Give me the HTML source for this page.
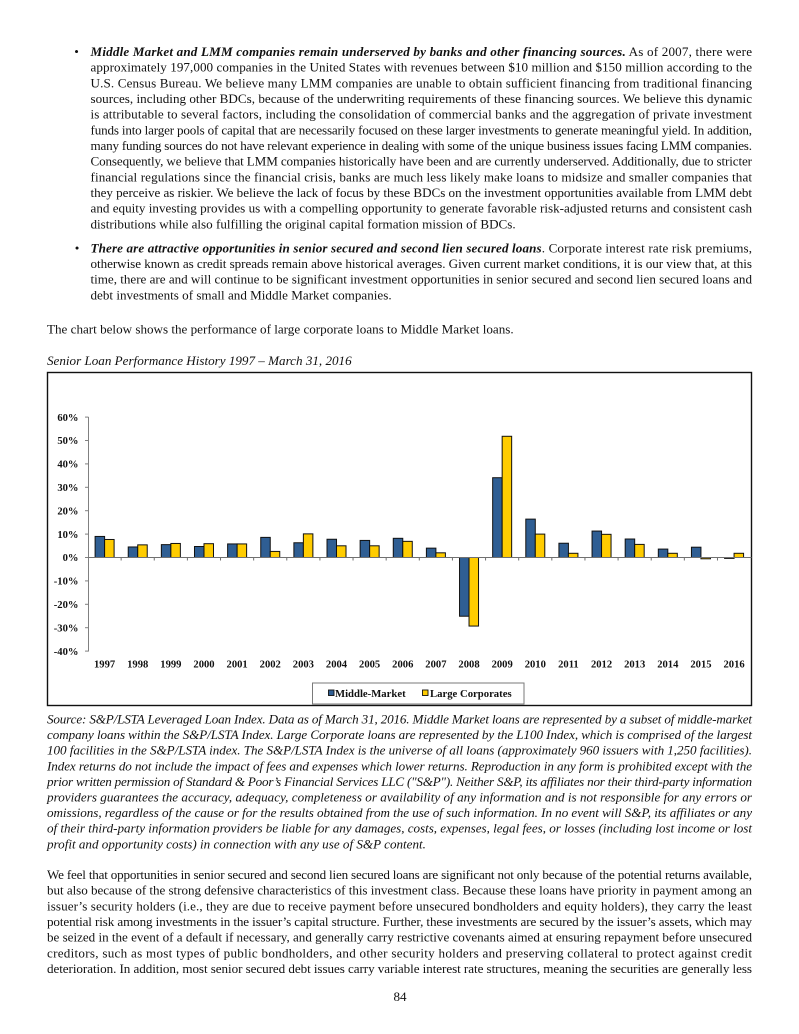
<!DOCTYPE html>
<html><head><meta charset="utf-8"><style>
html,body{margin:0;padding:0;background:#fff}
svg{display:block}
.t{font-family:"Liberation Serif","Times New Roman",serif;font-size:13.1px;fill:#111}
.it{font-style:italic}
.bi{font-weight:bold;font-style:italic}
.c{font-family:"Liberation Serif","Times New Roman",serif;font-size:10.6px;font-weight:bold;fill:#111}
</style></head><body>
<svg width="799" height="1034" viewBox="0 0 799 1034" xmlns="http://www.w3.org/2000/svg">
<!-- Bullet 1 -->
<text class="t" x="76.5" y="56" text-anchor="middle">•</text>
<text class="t" x="90.5" y="56" textLength="661.5" lengthAdjust="spacing"><tspan class="bi">Middle Market and LMM companies remain underserved by banks and other financing sources.</tspan> As of 2007, there were</text>
<text class="t" x="90.5" y="71.7" textLength="661.5" lengthAdjust="spacing">approximately 197,000 companies in the United States with revenues between $10 million and $150 million according to the</text>
<text class="t" x="90.5" y="87.3" textLength="661.5" lengthAdjust="spacing">U.S. Census Bureau. We believe many LMM companies are unable to obtain sufficient financing from traditional financing</text>
<text class="t" x="90.5" y="103" textLength="661.5" lengthAdjust="spacing">sources, including other BDCs, because of the underwriting requirements of these financing sources. We believe this dynamic</text>
<text class="t" x="90.5" y="118.7" textLength="661.5" lengthAdjust="spacing">is attributable to several factors, including the consolidation of commercial banks and the aggregation of private investment</text>
<text class="t" x="90.5" y="134.3" textLength="661.5" lengthAdjust="spacing">funds into larger pools of capital that are necessarily focused on these larger investments to generate meaningful yield. In addition,</text>
<text class="t" x="90.5" y="150" textLength="661.5" lengthAdjust="spacing">many funding sources do not have relevant experience in dealing with some of the unique business issues facing LMM companies.</text>
<text class="t" x="90.5" y="165.7" textLength="661.5" lengthAdjust="spacing">Consequently, we believe that LMM companies historically have been and are currently underserved. Additionally, due to stricter</text>
<text class="t" x="90.5" y="181.3" textLength="661.5" lengthAdjust="spacing">financial regulations since the financial crisis, banks are much less likely make loans to midsize and smaller companies that</text>
<text class="t" x="90.5" y="197" textLength="661.5" lengthAdjust="spacing">they perceive as riskier. We believe the lack of focus by these BDCs on the investment opportunities available from LMM debt</text>
<text class="t" x="90.5" y="212.7" textLength="661.5" lengthAdjust="spacing">and equity investing provides us with a compelling opportunity to generate favorable risk-adjusted returns and consistent cash</text>
<text class="t" x="90.5" y="228.3">distributions while also fulfilling the original capital formation mission of BDCs.</text>
<!-- Bullet 2 -->
<text class="t" x="77" y="252.3" text-anchor="middle">•</text>
<text class="t" x="90.5" y="252.3" textLength="661.5" lengthAdjust="spacing"><tspan class="bi">There are attractive opportunities in senior secured and second lien secured loans</tspan>. Corporate interest rate risk premiums,</text>
<text class="t" x="90.5" y="268" textLength="661.5" lengthAdjust="spacing">otherwise known as credit spreads remain above historical averages. Given current market conditions, it is our view that, at this</text>
<text class="t" x="90.5" y="283.7" textLength="661.5" lengthAdjust="spacing">time, there are and will continue to be significant investment opportunities in senior secured and second lien secured loans and</text>
<text class="t" x="90.5" y="299.3">debt investments of small and Middle Market companies.</text>
<!-- Intro -->
<text class="t" x="47" y="333.5">The chart below shows the performance of large corporate loans to Middle Market loans.</text>
<text class="t it" x="47" y="365">Senior Loan Performance History 1997 – March 31, 2016</text>

<!-- Chart -->
<rect x="47.5" y="372.5" width="704" height="333" fill="#fff" stroke="#111" stroke-width="1.4"/>
<g stroke="#808080" stroke-width="1">
<line x1="88.5" y1="417" x2="88.5" y2="651.5"/>
<line x1="85" y1="417.1" x2="88.5" y2="417.1"/>
<line x1="85" y1="440.5" x2="88.5" y2="440.5"/>
<line x1="85" y1="463.9" x2="88.5" y2="463.9"/>
<line x1="85" y1="487.3" x2="88.5" y2="487.3"/>
<line x1="85" y1="510.7" x2="88.5" y2="510.7"/>
<line x1="85" y1="534.1" x2="88.5" y2="534.1"/>
<line x1="85" y1="557.5" x2="88.5" y2="557.5"/>
<line x1="85" y1="580.9" x2="88.5" y2="580.9"/>
<line x1="85" y1="604.3" x2="88.5" y2="604.3"/>
<line x1="85" y1="627.7" x2="88.5" y2="627.7"/>
<line x1="85" y1="651.1" x2="88.5" y2="651.1"/>
</g>
<g class="c" text-anchor="end">
<text x="78.5" y="420.8">60%</text>
<text x="78.5" y="444.2">50%</text>
<text x="78.5" y="467.6">40%</text>
<text x="78.5" y="491">30%</text>
<text x="78.5" y="514.4">20%</text>
<text x="78.5" y="537.8">10%</text>
<text x="78.5" y="561.2">0%</text>
<text x="78.5" y="584.6">-10%</text>
<text x="78.5" y="608">-20%</text>
<text x="78.5" y="631.4">-30%</text>
<text x="78.5" y="654.8">-40%</text>
</g>
<!-- Middle-Market bars -->
<g fill="#2f5e93" stroke="#111" stroke-width="1">
<rect x="95.1" y="536.44" width="9.5" height="21.06"/>
<rect x="128.23" y="546.97" width="9.5" height="10.53"/>
<rect x="161.36" y="544.63" width="9.5" height="12.87"/>
<rect x="194.49" y="546.5" width="9.5" height="11"/>
<rect x="227.62" y="543.93" width="9.5" height="13.57"/>
<rect x="260.75" y="537.38" width="9.5" height="20.12"/>
<rect x="293.88" y="542.76" width="9.5" height="14.74"/>
<rect x="327.01" y="539.25" width="9.5" height="18.25"/>
<rect x="360.14" y="540.42" width="9.5" height="17.08"/>
<rect x="393.27" y="538.31" width="9.5" height="19.19"/>
<rect x="426.4" y="548.14" width="9.5" height="9.36"/>
<rect x="459.53" y="557.5" width="9.5" height="58.73"/>
<rect x="492.66" y="477.71" width="9.5" height="79.79"/>
<rect x="525.79" y="519.12" width="9.5" height="38.38"/>
<rect x="558.92" y="543.23" width="9.5" height="14.27"/>
<rect x="592.05" y="531.06" width="9.5" height="26.44"/>
<rect x="625.18" y="539.01" width="9.5" height="18.49"/>
<rect x="658.31" y="549.08" width="9.5" height="8.42"/>
<rect x="691.44" y="547.2" width="9.5" height="10.3"/>
<rect x="724.57" y="557.5" width="9.5" height="0.9"/>
</g>
<!-- Large Corporates bars -->
<g fill="#ffcc00" stroke="#111" stroke-width="1">
<rect x="104.6" y="539.48" width="9.5" height="18.02"/>
<rect x="137.73" y="544.86" width="9.5" height="12.64"/>
<rect x="170.86" y="543.46" width="9.5" height="14.04"/>
<rect x="203.99" y="543.69" width="9.5" height="13.81"/>
<rect x="237.12" y="543.93" width="9.5" height="13.57"/>
<rect x="270.25" y="551.42" width="9.5" height="6.08"/>
<rect x="303.38" y="533.87" width="9.5" height="23.63"/>
<rect x="336.51" y="545.8" width="9.5" height="11.7"/>
<rect x="369.64" y="545.8" width="9.5" height="11.7"/>
<rect x="402.77" y="541.35" width="9.5" height="16.15"/>
<rect x="435.9" y="552.82" width="9.5" height="4.68"/>
<rect x="469.03" y="557.5" width="9.5" height="68.56"/>
<rect x="502.16" y="436.29" width="9.5" height="121.21"/>
<rect x="535.29" y="534.1" width="9.5" height="23.4"/>
<rect x="568.42" y="553.29" width="9.5" height="4.21"/>
<rect x="601.55" y="534.33" width="9.5" height="23.17"/>
<rect x="634.68" y="544.4" width="9.5" height="13.1"/>
<rect x="667.81" y="553.29" width="9.5" height="4.21"/>
<rect x="700.94" y="557.5" width="9.5" height="1.3"/>
<rect x="734.07" y="553.29" width="9.5" height="4.21"/>
</g>
<!-- zero line and ticks -->
<g stroke="#707070" stroke-width="1">
<line x1="88.5" y1="557.5" x2="751.5" y2="557.5"/>
<line x1="121.13" y1="557.5" x2="121.13" y2="560.5"/>
<line x1="154.26" y1="557.5" x2="154.26" y2="560.5"/>
<line x1="187.39" y1="557.5" x2="187.39" y2="560.5"/>
<line x1="220.52" y1="557.5" x2="220.52" y2="560.5"/>
<line x1="253.65" y1="557.5" x2="253.65" y2="560.5"/>
<line x1="286.78" y1="557.5" x2="286.78" y2="560.5"/>
<line x1="319.91" y1="557.5" x2="319.91" y2="560.5"/>
<line x1="353.04" y1="557.5" x2="353.04" y2="560.5"/>
<line x1="386.17" y1="557.5" x2="386.17" y2="560.5"/>
<line x1="419.3" y1="557.5" x2="419.3" y2="560.5"/>
<line x1="452.43" y1="557.5" x2="452.43" y2="560.5"/>
<line x1="485.56" y1="557.5" x2="485.56" y2="560.5"/>
<line x1="518.69" y1="557.5" x2="518.69" y2="560.5"/>
<line x1="551.82" y1="557.5" x2="551.82" y2="560.5"/>
<line x1="584.95" y1="557.5" x2="584.95" y2="560.5"/>
<line x1="618.08" y1="557.5" x2="618.08" y2="560.5"/>
<line x1="651.21" y1="557.5" x2="651.21" y2="560.5"/>
<line x1="684.34" y1="557.5" x2="684.34" y2="560.5"/>
<line x1="717.47" y1="557.5" x2="717.47" y2="560.5"/>
</g>
<g class="c" text-anchor="middle">
<text x="104.6" y="667.7">1997</text>
<text x="137.73" y="667.7">1998</text>
<text x="170.86" y="667.7">1999</text>
<text x="203.99" y="667.7">2000</text>
<text x="237.12" y="667.7">2001</text>
<text x="270.25" y="667.7">2002</text>
<text x="303.38" y="667.7">2003</text>
<text x="336.51" y="667.7">2004</text>
<text x="369.64" y="667.7">2005</text>
<text x="402.77" y="667.7">2006</text>
<text x="435.9" y="667.7">2007</text>
<text x="469.03" y="667.7">2008</text>
<text x="502.16" y="667.7">2009</text>
<text x="535.29" y="667.7">2010</text>
<text x="568.42" y="667.7">2011</text>
<text x="601.55" y="667.7">2012</text>
<text x="634.68" y="667.7">2013</text>
<text x="667.81" y="667.7">2014</text>
<text x="700.94" y="667.7">2015</text>
<text x="734.07" y="667.7">2016</text>
</g>
<!-- Legend -->
<rect x="312.5" y="683" width="211.5" height="21" fill="#fff" stroke="#7a7a7a" stroke-width="1"/>
<rect x="328.5" y="690" width="5.5" height="5.5" fill="#2f5e93" stroke="#111" stroke-width="0.9"/>
<text class="c" x="335" y="697" style="font-size:10.7px">Middle-Market</text>
<rect x="422.5" y="690" width="5.5" height="5.5" fill="#ffcc00" stroke="#111" stroke-width="0.9"/>
<text class="c" x="430" y="697" style="font-size:10.7px">Large Corporates</text>

<!-- Source -->
<g class="t it">
<text x="47" y="723.5" textLength="705" lengthAdjust="spacing">Source: S&amp;P/LSTA Leveraged Loan Index. Data as of March 31, 2016. Middle Market loans are represented by a subset of middle-market</text>
<text x="47" y="739.1" textLength="705" lengthAdjust="spacing">company loans within the S&amp;P/LSTA Index. Large Corporate loans are represented by the L100 Index, which is comprised of the largest</text>
<text x="47" y="754.7" textLength="705" lengthAdjust="spacing">100 facilities in the S&amp;P/LSTA index. The S&amp;P/LSTA Index is the universe of all loans (approximately 960 issuers with 1,250 facilities).</text>
<text x="47" y="770.3" textLength="705" lengthAdjust="spacing">Index returns do not include the impact of fees and expenses which lower returns. Reproduction in any form is prohibited except with the</text>
<text x="47" y="785.9" textLength="705" lengthAdjust="spacing">prior written permission of Standard &amp; Poor’s Financial Services LLC ("S&amp;P"). Neither S&amp;P, its affiliates nor their third-party information</text>
<text x="47" y="801.5" textLength="705" lengthAdjust="spacing">providers guarantees the accuracy, adequacy, completeness or availability of any information and is not responsible for any errors or</text>
<text x="47" y="817.1" textLength="705" lengthAdjust="spacing">omissions, regardless of the cause or for the results obtained from the use of such information. In no event will S&amp;P, its affiliates or any</text>
<text x="47" y="832.7" textLength="705" lengthAdjust="spacing">of their third-party information providers be liable for any damages, costs, expenses, legal fees, or losses (including lost income or lost</text>
<text x="47" y="848.3">profit and opportunity costs) in connection with any use of S&amp;P content.</text>
</g>
<!-- Final paragraph -->
<g class="t">
<text x="47" y="879" textLength="705" lengthAdjust="spacing">We feel that opportunities in senior secured and second lien secured loans are significant not only because of the potential returns available,</text>
<text x="47" y="894.7" textLength="705" lengthAdjust="spacing">but also because of the strong defensive characteristics of this investment class. Because these loans have priority in payment among an</text>
<text x="47" y="910.3" textLength="705" lengthAdjust="spacing">issuer’s security holders (i.e., they are due to receive payment before unsecured bondholders and equity holders), they carry the least</text>
<text x="47" y="926" textLength="705" lengthAdjust="spacing">potential risk among investments in the issuer’s capital structure. Further, these investments are secured by the issuer’s assets, which may</text>
<text x="47" y="941.7" textLength="705" lengthAdjust="spacing">be seized in the event of a default if necessary, and generally carry restrictive covenants aimed at ensuring repayment before unsecured</text>
<text x="47" y="957.3" textLength="705" lengthAdjust="spacing">creditors, such as most types of public bondholders, and other security holders and preserving collateral to protect against credit</text>
<text x="47" y="973" textLength="705" lengthAdjust="spacing">deterioration. In addition, most senior secured debt issues carry variable interest rate structures, meaning the securities are generally less</text>
</g>
<text class="t" x="400" y="1001" text-anchor="middle">84</text>
</svg>
</body></html>
